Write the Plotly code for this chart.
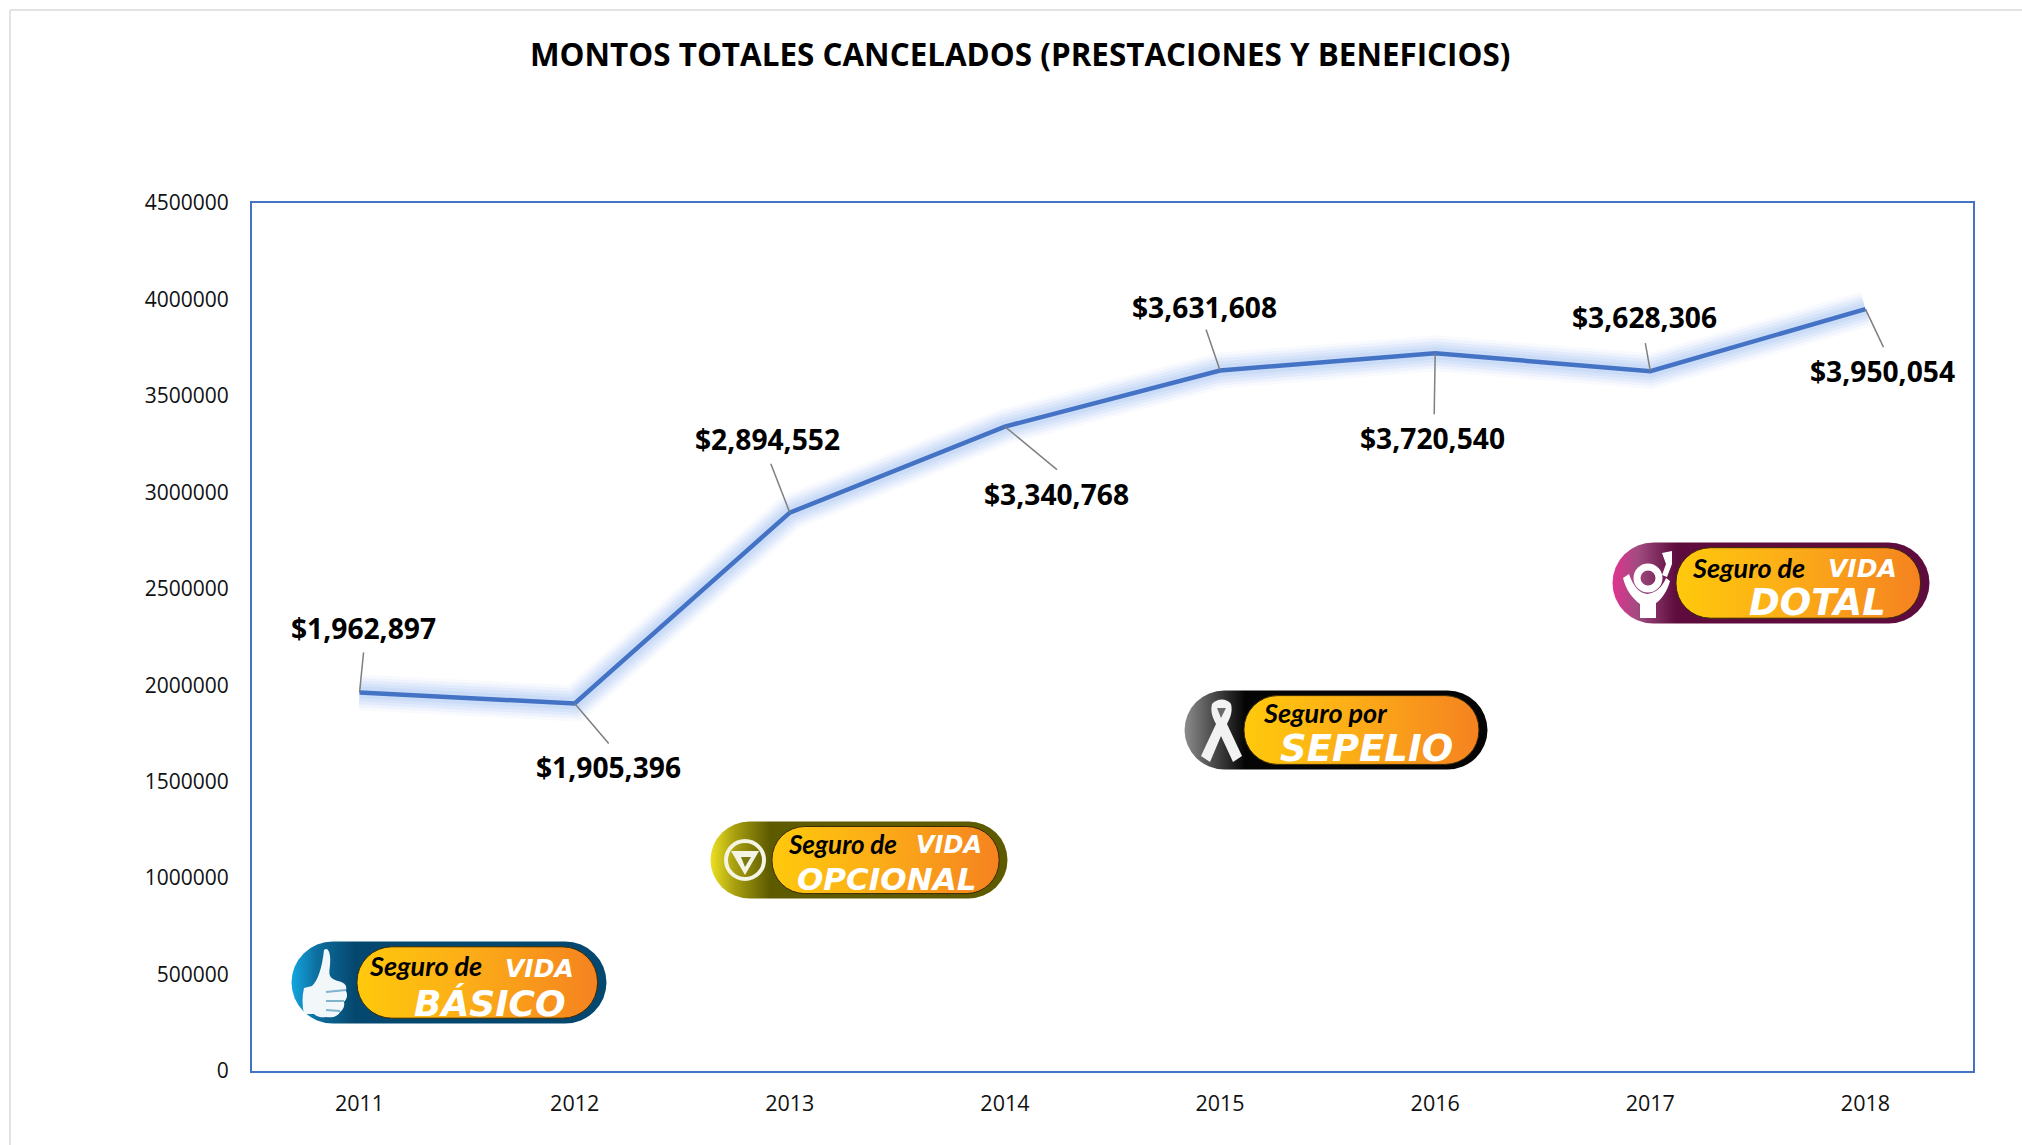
import base64
import plotly.graph_objects as go

years = ["2011", "2012", "2013", "2014", "2015", "2016", "2017", "2018"]
montos = [1962897, 1905396, 2894552, 3340768, 3631608, 3720540, 3628306, 3950054]
y_ticks = [0, 500000, 1000000, 1500000, 2000000, 2500000, 3000000, 3500000, 4000000, 4500000]
title_text = "MONTOS TOTALES CANCELADOS (PRESTACIONES Y BENEFICIOS)"

# page geometry
W, H = 2022, 1145
L, T, R, B = 252, 203, 1973, 1071
PW, PH = R - L, B - T
BLUE = "#4472C4"

# text offset (px, right/up) of each value label and leader end, from its point
label_dx = [4, 34, -22, 52, -16, -3, -6, 17]
label_dy = [64, -64, 74, -67, 64, -85, 54, -62]
leader_dx = [4, 34, -19, 52, -14, -1, -5, 18]
leader_dy = [40, -40, 49, -43, 41, -61, 28, -38]


def px(x):
    return (x - L) / PW


def py(y):
    return 1 - (y - T) / PH


THUMB = ('<g transform="translate(-13,-3)"><path fill="#F2F7FA" d="M46 12 C51 8 53 18 52 27 C51 36 50 40 60 43 C68 45 69 48 68 53 '
         'C70 57 69 61 66 64 C67 68 65 72 62 74 C60 78 56 80 48 79 C42 80 38 78 36 76 '
         'L26 76 C24 68 24 58 26 50 L34 48 C40 42 44 30 46 12 Z"/>'
         '<path stroke="#7FB4CC" stroke-width="2" fill="none" d="M48 54 L68 52 M48 63 L66 63 M48 72 L62 73"/></g>')
VMARK = ('<circle cx="35" cy="39" r="19" fill="none" stroke="#F4F4E4" stroke-width="4"/>'
         '<path fill="#F4F4E4" d="M21 30 L49 30 L35 54 Z"/><path fill="#7C7A10" d="M31 36 L41 36 L35 46 Z"/>')
RIBBON = ('<path fill="#F2F2F2" d="M28 14 C33 8 43 8 47 14 C49 22 46 28 43 34 L58 66 L49 72 L37 46 L26 72 L17 66 '
          'L32 34 C29 28 26 22 28 14 Z"/><path fill="#6a6a6a" d="M33 18 L42 18 L37 28 Z"/>')
PERSON = ('<circle cx="36" cy="36" r="11" fill="none" stroke="#FFFFFF" stroke-width="7"/>'
          '<path fill="#FFFFFF" d="M11 36 L17 32 C21 44 27 51 35 52 C43 51 50 46 54 36 L58 39 '
          'C55 50 49 58 44 61 L44 76 L28 76 L28 62 C20 56 14 48 11 36 Z"/>'
          '<path fill="#FFFFFF" d="M50 11 L60 9 L60 22 L55 35 L50 33 L54 22 Z"/>')


def pill_svg(w, h, c_bright, c_mid, c_dark, inner_left, icon):
    """Badge artwork (no text: the labels are real annotations)."""
    r = h / 2
    svg = f'''<svg xmlns="http://www.w3.org/2000/svg" width="{w}" height="{h}" viewBox="0 0 {w} {h}" preserveAspectRatio="none">
<defs>
<linearGradient id="o" x1="0" x2="1" y1="0" y2="0"><stop offset="0" stop-color="{c_bright}"/><stop offset="0.08" stop-color="{c_mid}"/><stop offset="0.2" stop-color="{c_dark}"/><stop offset="1" stop-color="{c_dark}"/></linearGradient>
<linearGradient id="i" x1="0" x2="1" y1="0" y2="0"><stop offset="0" stop-color="#FFC90C"/><stop offset="0.45" stop-color="#FCAE17"/><stop offset="1" stop-color="#F58220"/></linearGradient>
</defs>
<rect x="0.5" y="0.5" width="{w-1}" height="{h-1}" rx="{r}" ry="{r}" fill="url(#o)"/>
<rect x="{inner_left}" y="{h*0.07:.1f}" width="{w-inner_left-w*0.03:.1f}" height="{h*0.86:.1f}" rx="{h*0.42:.1f}" ry="{h*0.42:.1f}" fill="url(#i)" stroke="#3a2a05" stroke-width="1"/>
{icon}
</svg>'''
    return "data:image/svg+xml;base64," + base64.b64encode(svg.encode()).decode()


badges = [
    (291, 941, 316, 83, "#12A6E0", "#0E6F9F", "#05486F", 66, THUMB),
    (710, 821, 298, 78, "#EDE022", "#A8A010", "#5E5A00", 62, VMARK),
    (1184, 690, 304, 80, "#8C8C8C", "#555555", "#050505", 60, RIBBON),
    (1612, 542, 318, 82, "#E2338F", "#A04C80", "#5E0B3E", 64, PERSON),
]

SCRIPT_FONT = "Lato"
badge_text = [
    ("Seguro de", 425, 965, 27, "#000000", SCRIPT_FONT, "bold"),
    ("VIDA", 539, 968, 25, "#FFFFFF", "DejaVu Sans", "bold"),
    ("BÁSICO", 490, 1003, 36, "#FFFFFF", "DejaVu Sans", "bold"),
    ("Seguro de", 842, 844, 26, "#000000", SCRIPT_FONT, "bold"),
    ("VIDA", 949, 845, 24, "#FFFFFF", "DejaVu Sans", "bold"),
    ("OPCIONAL", 886, 879, 31, "#FFFFFF", "DejaVu Sans", "bold"),
    ("Seguro por", 1325, 712, 27, "#000000", SCRIPT_FONT, "bold"),
    ("SEPELIO", 1366, 748, 37, "#FFFFFF", "DejaVu Sans", "bold"),
    ("Seguro de", 1748, 567, 27, "#000000", SCRIPT_FONT, "bold"),
    ("VIDA", 1862, 568, 25, "#FFFFFF", "DejaVu Sans", "bold"),
    ("DOTAL", 1817, 602, 37, "#FFFFFF", "DejaVu Sans", "bold"),
]

fig = go.Figure()

# soft glow under the line
for width, alpha in [(36, 0.05), (30, 0.07), (24, 0.09), (18, 0.10), (12, 0.11)]:
    fig.add_trace(go.Scatter(x=years, y=montos, mode="lines", showlegend=False, hoverinfo="skip",
                             line=dict(color=f"rgba(110,160,235,{alpha})", width=width)))
fig.add_trace(go.Scatter(x=years, y=montos, mode="lines", showlegend=False,
                         line=dict(color=BLUE, width=4.5)))

annotations = [dict(text=f"<b>{title_text}</b>", xref="paper", yref="paper", x=px(1020), y=py(53),
                    showarrow=False, xanchor="center", yanchor="middle",
                    font=dict(family="Open Sans", size=31.4, color="#000000"))]
shapes = []

for i, v in enumerate(montos):
    annotations.append(dict(text=f"<b>${v:,}</b>", x=i, y=v, xref="x", yref="y", showarrow=False,
                            xshift=label_dx[i], yshift=label_dy[i], xanchor="center", yanchor="middle",
                            font=dict(family="Open Sans", size=28.2, color="#000000")))
    shapes.append(dict(type="line", xref="x", yref="y", xsizemode="pixel", ysizemode="pixel",
                       xanchor=i, yanchor=v, x0=0, y0=0, x1=leader_dx[i], y1=leader_dy[i],
                       line=dict(color="#7F7F7F", width=1.5)))

# outer light frame of the picture
for x0, y0, x1, y1 in [(10, 10, W, 10), (10, 10, 10, H)]:
    shapes.append(dict(type="line", xref="paper", yref="paper", x0=px(x0), y0=py(y0), x1=px(x1), y1=py(y1),
                       line=dict(color="#E2E2E2", width=2)))

images = []
for bx, by, bw, bh, c1, c2, c3, il, icon in badges:
    images.append(dict(source=pill_svg(bw, bh, c1, c2, c3, il, icon), xref="paper", yref="paper",
                       x=px(bx), y=py(by), sizex=bw / PW, sizey=bh / PH,
                       xanchor="left", yanchor="top", sizing="stretch", layer="above"))

for txt, tx, ty, size, color, fam, weight in badge_text:
    annotations.append(dict(text=txt, xref="paper", yref="paper", x=px(tx), y=py(ty), showarrow=False,
                            xanchor="center", yanchor="middle",
                            font=dict(family=fam, size=size, color=color, style="italic", weight=weight)))

fig.update_layout(
    width=W, height=H, autosize=False,
    margin=dict(l=L, r=W - R, t=T, b=H - B, pad=0),
    paper_bgcolor="white", plot_bgcolor="white",
    font=dict(family="Open Sans", color="#111111"),
    showlegend=False, annotations=annotations, shapes=shapes, images=images,
)
fig.update_xaxes(type="category", categoryorder="array", categoryarray=years, range=[-0.5, 7.5],
                 showgrid=False, zeroline=False, showline=True, mirror=True, linecolor=BLUE, linewidth=2,
                 ticks="", ticklabelstandoff=12, tickfont=dict(family="Open Sans", size=21.5, color="#111111"))
fig.update_yaxes(range=[0, 4500000], tickvals=y_ticks, ticktext=[str(t) for t in y_ticks],
                 showgrid=False, zeroline=False, showline=True, mirror=True, linecolor=BLUE, linewidth=2,
                 ticks="", ticklabelstandoff=17, tickfont=dict(family="Open Sans", size=21, color="#111111"))

fig.write_html("out.html", config=dict(displayModeBar=False),
               post_script="document.body.style.margin='0';document.body.style.overflow='hidden';window.dispatchEvent(new Event('resize'));")
